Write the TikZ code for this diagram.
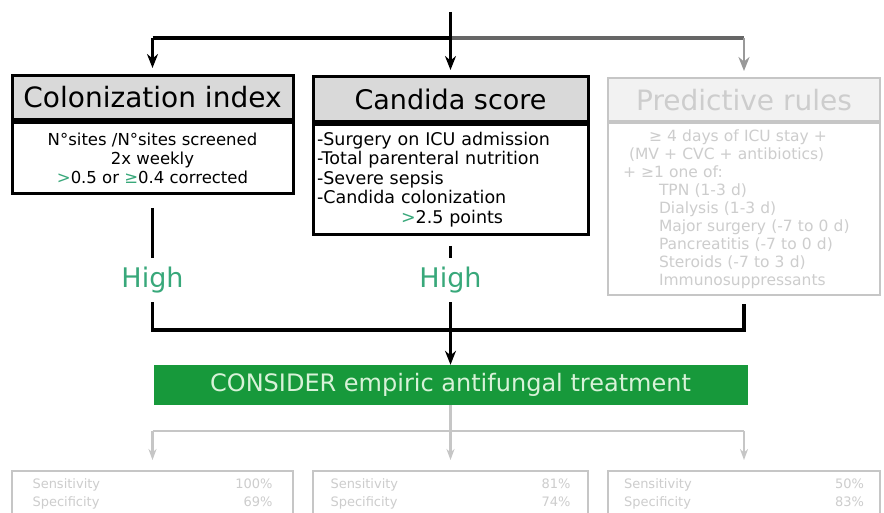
\documentclass[tikz,border=0pt]{standalone}
\usepackage{fontspec}
\setmainfont{DejaVu Sans}
\usetikzlibrary{arrows.meta}

\definecolor{headgray}{HTML}{D9D9D9}
\definecolor{treatgreen}{HTML}{17993B}
\definecolor{treattext}{HTML}{D8F2D8}
\definecolor{highgreen}{HTML}{38A87A}
\definecolor{fadeline}{HTML}{C6C6C6}
\definecolor{fadetext}{HTML}{CDCDCD}
\definecolor{fadefill}{HTML}{F2F2F2}

\tikzset{
  conn/.style={line width=3.4pt, draw=black},
  fadeconn/.style={line width=2.2pt, draw=fadeline},
  tip/.style={-{Stealth[length=14pt,width=11pt]}},
  headbox/.style={draw, line width=3pt, fill=headgray, inner sep=0pt, anchor=north,
    font=\fontsize{28}{30}\selectfont},
  bodybox/.style={draw, line width=3pt, inner sep=0pt, anchor=north},
  fadehead/.style={draw=fadeline, line width=2.2pt, fill=fadefill, text=fadetext, inner sep=0pt,
    anchor=north, font=\fontsize{28}{30}\selectfont},
  fadebody/.style={draw=fadeline, line width=2.2pt, text=fadetext, inner sep=0pt, anchor=north},
  hightext/.style={text=highgreen, inner sep=0pt, minimum height=44pt,
    font=\fontsize{27}{30}\selectfont},
  treatbox/.style={fill=treatgreen, text=treattext, inner sep=0pt,
    font=\fontsize{24}{28}\selectfont},
  resultbox/.style={draw=fadeline, line width=2.2pt, text=fadetext, inner sep=0pt, anchor=north}
}

\begin{document}
\begin{tikzpicture}[x=1pt,y=-1pt]
\clip (0,0) rectangle (884,513);
\fill[white] (0,0) rectangle (884,513);

% ---- three scores ----
\node[headbox, minimum width=281pt, minimum height=44pt] (cihead) at (152.5,74) {Colonization index};
\node[bodybox, minimum width=281pt, minimum height=71pt, align=center,
  font=\fontsize{16.5}{19}\selectfont] (cibody) at (cihead.south)
  {N°sites /N°sites screened\\ 2x weekly\\
   \textcolor{highgreen}{>}0.5 or \textcolor{highgreen}{≥}0.4 corrected};

\node[headbox, minimum width=275pt, minimum height=45pt,
  font=\fontsize{27}{30}\selectfont] (cshead) at (450.5,75) {Candida score};
\node[bodybox, minimum width=275pt, minimum height=110pt, text width=267pt, align=left,
  font=\fontsize{17.5}{19.5}\selectfont] (csbody) at (cshead.south)
  {-Surgery on ICU admission\\ -Total parenteral nutrition\\ -Severe sepsis\\
   -Candida colonization\\ \hspace*{84pt}\textcolor{highgreen}{>}2.5 points};

\node[fadehead, minimum width=272pt, minimum height=43pt] (prhead) at (744,77) {Predictive rules};
\node[fadebody, minimum width=272pt, minimum height=172pt, text width=262pt, align=left,
  font=\fontsize{15.5}{17.9}\selectfont] (prbody) at (prhead.south)
  {\hspace*{36pt}≥ 4 days of ICU stay +\\
   \hspace*{16pt}(MV + CVC + antibiotics)\\
   \hspace*{10pt}+ ≥1 one of:\\
   \hspace*{46pt}TPN (1-3 d)\\
   \hspace*{46pt}Dialysis (1-3 d)\\
   \hspace*{46pt}Major surgery (-7 to 0 d)\\
   \hspace*{46pt}Pancreatitis (-7 to 0 d)\\
   \hspace*{46pt}Steroids (-7 to 3 d)\\
   \hspace*{46pt}Immunosuppressants};

% ---- entry connectors ----
\coordinate (top) at (450.5,12);
\coordinate (split) at (450.5,38);
\draw[conn] (split -| cihead.north) -- (split);
\draw[line width=3.4pt, draw=black!60] (split) -- (split -| prhead.north);
\draw[conn, tip, shorten >=5pt] (top) -- (cshead.north);
\draw[conn, tip, shorten >=6pt] (split -| cihead.north) -- (cihead.north);
\draw[line width=2.6pt, draw=black!40, tip, shorten >=6pt] (split -| prhead.north) -- (prhead.north);

% ---- results ----
\node[hightext] (h1) at (152.5,280) {High};
\node[hightext] (h2) at (450.5,280) {High};
\node[treatbox, minimum width=594pt, minimum height=40pt] (treat) at (450.5,385)
  {CONSIDER empiric antifungal treatment};

\coordinate (join) at (450.5,330);
\draw[conn, shorten <=13pt] (cibody.south) -- (h1.north);
\draw[conn, shorten <=10pt] (csbody.south) -- (h2.north);
\draw[conn] (h1.south) |- (join) -| ([yshift=-8pt]prbody.south);
\draw[conn, tip] (h2.south) -- (treat.north);

% ---- outcome boxes ----
\node[resultbox, minimum width=281pt, minimum height=70pt] (b1) at (152.5,470) {};
\node[resultbox, minimum width=275pt, minimum height=70pt] (b2) at (450.5,470) {};
\node[resultbox, minimum width=272pt, minimum height=70pt] (b3) at (744,470) {};

\foreach \b/\s/\p in {b1/100\%/69\%, b2/81\%/74\%, b3/50\%/83\%}{
  \node[text=fadetext, font=\fontsize{13}{18}\selectfont, text width=240pt, align=left,
    anchor=north, inner sep=0pt] at ([yshift=-8pt]\b.north)
    {Sensitivity\hfill\s\\ Specificity\hfill\p};
}

\coordinate (fork) at (450.5,431);
\draw[fadeconn] (treat.south) -- (fork);
\draw[fadeconn] (fork -| b1.north) -- (fork -| b3.north);
\foreach \b in {b1,b2,b3}{
  \draw[fadeconn, -{Stealth[length=11pt,width=8pt]}, shorten >=10pt] (fork -| \b.north) -- (\b.north);
}
\end{tikzpicture}
\end{document}
